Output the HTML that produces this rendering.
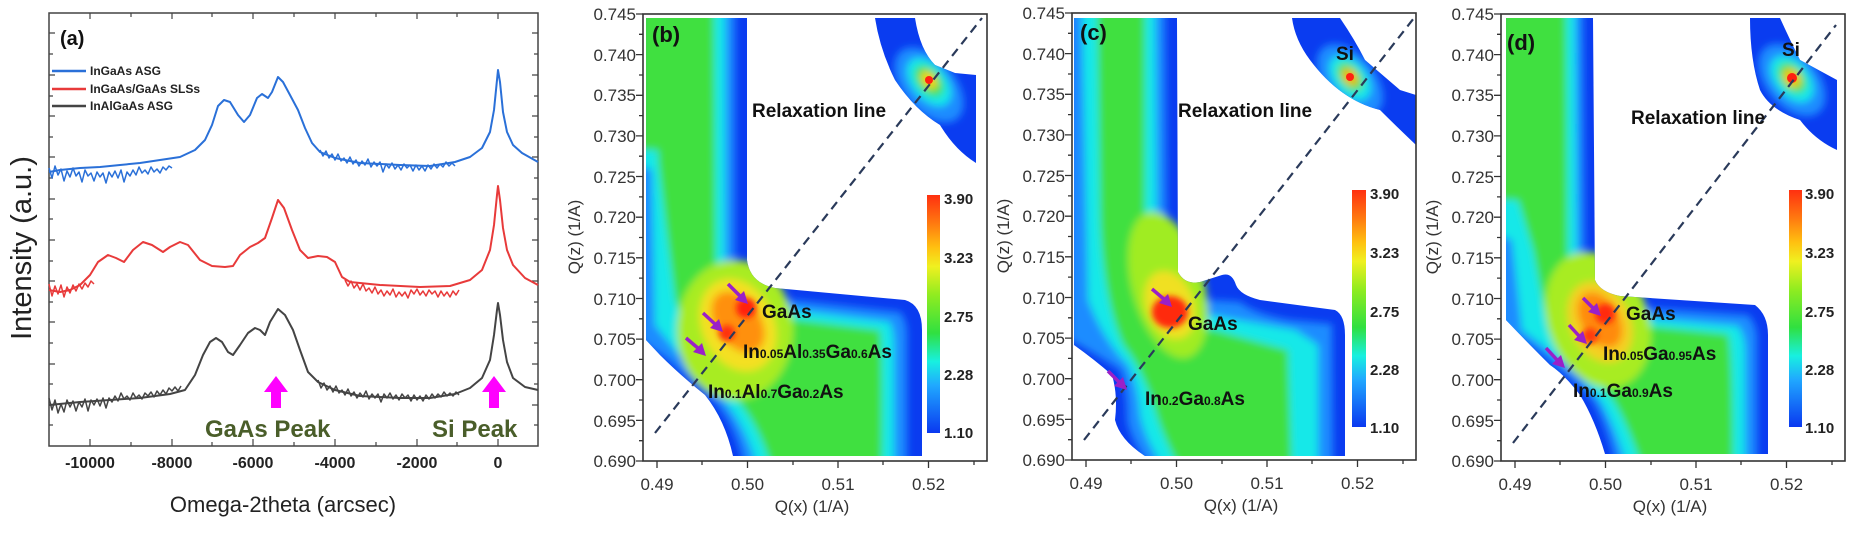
<!DOCTYPE html>
<html><head><meta charset="utf-8"><style>
html,body{margin:0;padding:0;background:#fff}
svg{display:block}
text{font-family:"Liberation Sans",Arial,sans-serif}
.tk{font-size:17px;fill:#333}
.b{font-weight:bold;fill:#111}
</style></head><body>
<svg width="1850" height="547" viewBox="0 0 1850 547" xmlns="http://www.w3.org/2000/svg">
<defs>
<filter id="bl" x="-20%" y="-20%" width="140%" height="140%"><feGaussianBlur stdDeviation="4"/></filter>
<filter id="bl2" x="-50%" y="-50%" width="200%" height="200%"><feGaussianBlur stdDeviation="3"/></filter>
<linearGradient id="cb" x1="0" y1="0" x2="0" y2="1">
<stop offset="0" stop-color="#ff3010"/><stop offset="0.12" stop-color="#ff7a10"/><stop offset="0.22" stop-color="#ffc010"/>
<stop offset="0.3" stop-color="#f0f020"/><stop offset="0.42" stop-color="#90ec20"/><stop offset="0.58" stop-color="#30e040"/>
<stop offset="0.7" stop-color="#18f0e0"/><stop offset="0.8" stop-color="#20a8ff"/><stop offset="1" stop-color="#0a38f0"/>
</linearGradient>
<clipPath id="cpb"><path d="M646,18 L747,18 L747,260 Q750,283 775,288 L905,300 Q922,305 922,330 L922,456 L733,456 Q725,420 705,395 Q680,375 660,355 L646,340 Z"/></clipPath>
<clipPath id="cpbs"><path d="M875,18 L915,18 Q920,50 935,65 L955,73 L976,75 L976,163 Q955,150 940,125 Q915,110 895,80 Q880,50 875,18 Z"/></clipPath>
<clipPath id="cpc"><path d="M1074,18 L1177,18 L1178,272 Q1185,285 1200,282 L1222,275 Q1232,272 1236,285 Q1240,295 1260,300 L1335,310 Q1345,315 1345,335 L1345,456 L1145,456 Q1120,440 1115,420 Q1118,395 1112,375 Q1095,360 1074,345 Z"/></clipPath>
<clipPath id="cpcs"><path d="M1292,18 L1340,18 Q1355,40 1365,60 L1400,90 L1416,95 L1416,145 Q1395,125 1380,110 Q1340,100 1310,60 Q1295,40 1292,18 Z"/></clipPath>
<clipPath id="cpd"><path d="M1506,18 L1593,18 L1595,280 Q1600,292 1620,296 L1755,305 Q1768,315 1768,335 L1768,454 L1605,454 Q1595,420 1580,395 Q1565,375 1550,365 Q1525,340 1506,320 Z"/></clipPath>
<clipPath id="cpds"><path d="M1750,18 L1780,18 Q1790,40 1800,60 L1837,80 L1837,150 Q1815,140 1800,120 Q1770,110 1760,90 Q1750,60 1750,18 Z"/></clipPath>
</defs>

<!-- ================= Panel (a) ================= -->
<rect x="49" y="13" width="489" height="433" fill="none" stroke="#444" stroke-width="1.5"/>
<path stroke="#444" stroke-width="1.2" fill="none" d="
M49,33h6M49,54h4M49,75h6M49,96h4M49,116h6M49,137h4M49,157h6M49,178h4M49,199h6M49,219h4M49,240h6M49,261h4M49,281h6M49,302h4M49,322h6M49,343h4M49,364h6M49,384h4M49,405h6M49,425h4
M538,33h-6M538,54h-4M538,75h-6M538,96h-4M538,116h-6M538,137h-4M538,157h-6M538,178h-4M538,199h-6M538,219h-4M538,240h-6M538,261h-4M538,281h-6M538,302h-4M538,322h-6M538,343h-4M538,364h-6M538,384h-4M538,405h-6M538,425h-4
M90,446v-7M131,446v-4M172,446v-7M212,446v-4M253,446v-7M294,446v-4M335,446v-7M376,446v-4M417,446v-7M457,446v-4M498,446v-7
M90,13v6M131,13v4M172,13v6M212,13v4M253,13v6M294,13v4M335,13v6M376,13v4M417,13v6M457,13v4M498,13v6"/>
<g font-weight="bold" font-size="16" fill="#222" text-anchor="middle">
<text x="90" y="468">-10000</text><text x="172" y="468">-8000</text><text x="253" y="468">-6000</text>
<text x="335" y="468">-4000</text><text x="417" y="468">-2000</text><text x="498" y="468">0</text>
</g>
<text x="283" y="512" font-size="22" fill="#222" text-anchor="middle">Omega-2theta (arcsec)</text>
<text transform="translate(31,248) rotate(-90)" font-size="29" fill="#222" text-anchor="middle">Intensity  (a.u.)</text>
<text x="60" y="45" class="b" font-size="20">(a)</text>
<g font-size="12" font-weight="bold" fill="#222">
<line x1="52" y1="71" x2="86" y2="71" stroke="#2a70d8" stroke-width="2.5"/><text x="90" y="75">InGaAs ASG</text>
<line x1="52" y1="89" x2="86" y2="89" stroke="#e83a3a" stroke-width="2.5"/><text x="90" y="93">InGaAs/GaAs SLSs</text>
<line x1="52" y1="106" x2="86" y2="106" stroke="#444" stroke-width="2.5"/><text x="90" y="110">InAlGaAs ASG</text>
</g>
<g fill="none" stroke-linejoin="round" stroke-width="2">
<path stroke="#2a70d8" d="M49,172 L60,170 80,168 100,167 120,165 140,163 160,160 180,157 195,150 205,140 212,125 218,106 224,100 230,102 238,115 244,122 250,115 257,98 262,94 268,98 272,92 278,77 283,82 290,95 298,110 305,128 312,143 320,152 335,158 360,163 400,165 430,166 455,162 470,157 482,148 490,132 494,110 497,80 498,70 500,82 503,112 507,132 513,145 522,153 538,162"/>
<path stroke="#2a70d8" stroke-width="1.5" d="M49,168 l3,10 3,-12 3,9 3,-6 3,12 3,-10 3,6 3,-9 3,8 3,-4 3,10 3,-12 3,6 3,-3 3,8 3,-9 3,5 3,-4 3,10 3,-11 3,5 3,-6 3,7 3,-8 3,12 3,-10 3,4 3,-6 3,5 3,-8 3,6 3,-3 3,4 3,-7 3,5 3,-3 3,4 3,-6 3,3 3,-4 3,2
M320,150 l3,6 3,-5 3,7 3,-4 3,6 3,-6 3,7 3,-3 3,5 3,-6 3,7 3,-4 3,6 3,-5 3,4 3,-6 3,8 3,-5 3,4 3,-4 3,10 3,-8 3,4 3,-5 3,6 3,-4 3,5 3,-6 3,4 3,-3 3,6 3,-6 3,5 3,-4 3,5 3,-6 3,4 3,-5 3,4 3,-4 3,3 3,-5 3,4 3,-3 3,3"/>
<path stroke="#e83a3a" d="M49,290 L60,292 70,290 80,285 90,275 98,262 108,255 116,258 124,262 133,250 143,242 152,245 163,252 170,247 180,242 188,245 200,260 212,266 225,267 233,266 240,255 250,247 258,243 265,238 272,218 278,200 284,208 292,230 300,250 308,258 318,256 327,257 335,262 342,277 350,282 380,285 420,287 450,286 470,280 482,270 490,250 494,225 497,195 498,186 500,200 503,228 507,250 513,265 525,278 538,285"/>
<path stroke="#e83a3a" stroke-width="1.5" d="M49,284 l3,12 3,-10 3,8 3,-9 3,12 3,-10 3,6 3,-8 3,6 3,-7 3,5 3,-6 3,4 3,-6 3,3
M345,280 l3,6 3,-5 3,7 3,-4 3,6 3,-6 3,7 3,-3 3,5 3,-6 3,7 3,-4 3,6 3,-5 3,4 3,-6 3,8 3,-5 3,4 3,-4 3,6 3,-8 3,4 3,-5 3,6 3,-4 3,5 3,-6 3,4 3,-3 3,6 3,-6 3,5 3,-4 3,5 3,-6 3,4 3,-5"/>
<path stroke="#444" d="M49,405 L80,402 110,400 140,398 170,394 185,390 195,375 203,355 210,342 216,338 222,342 228,352 233,355 240,345 248,333 255,328 260,330 265,335 270,322 278,309 285,315 293,330 300,350 308,372 318,382 335,390 360,396 400,398 430,398 455,394 470,388 482,378 490,360 494,335 497,310 498,303 500,315 503,340 507,362 513,378 525,387 538,390"/>
<path stroke="#444" stroke-width="1.5" d="M49,398 l3,12 3,-10 3,13 3,-9 3,8 3,-12 3,7 3,-6 3,10 3,-9 3,5 3,-8 3,12 3,-11 3,5 3,-6 3,7 3,-8 3,10 3,-10 3,4 3,-6 3,5 3,-8 3,6 3,-3 3,4 3,-7 3,5 3,-3 3,4 3,-6 3,3 3,-4 3,5 3,-6 3,4 3,-5 3,4 3,-6 3,3 3,-4 3,4 3,-5
M318,380 l3,8 3,-5 3,7 3,-4 3,6 3,-6 3,7 3,-3 3,5 3,-6 3,7 3,-4 3,6 3,-5 3,4 3,-6 3,8 3,-5 3,4 3,-4 3,8 3,-8 3,4 3,-5 3,6 3,-4 3,5 3,-6 3,4 3,-3 3,6 3,-6 3,5 3,-4 3,5 3,-6 3,4 3,-5 3,4 3,-4 3,3 3,-5 3,4 3,-3 3,3 3,-4 3,3"/>
</g>
<path fill="#ff00ff" d="M276,376 L288,392 L281,392 L281,408 L271,408 L271,392 L264,392 Z"/>
<path fill="#ff00ff" d="M494,376 L506,392 L499,392 L499,408 L489,408 L489,392 L482,392 Z"/>
<g font-size="24" font-weight="bold" fill="#4a5e2a"><text x="205" y="437">GaAs Peak</text><text x="432" y="437">Si Peak</text></g>

<!-- ================= Panel (b) maps ================= -->
<g clip-path="url(#cpb)">
<rect x="640" y="10" width="300" height="460" fill="#0a3cf0"/>
<g filter="url(#bl)">
<path fill="#1e8cff" d="M640,10 L735,10 L735,265 Q740,294 772,298 L900,312 Q907,320 907,335 L907,470 L745,470 Q738,430 715,402 Q690,380 668,360 L640,340 Z"/>
<path fill="#18e8e8" d="M640,10 L725,10 L725,272 Q730,304 768,307 L890,322 Q894,332 894,345 L894,470 L758,470 Q746,425 722,398 Q698,375 675,350 L655,325 L652,170 L640,165 Z"/>
<path fill="#40e040" d="M656,10 L714,10 L716,275 Q722,312 768,316 L880,330 Q883,345 882,470 L772,470 Q758,420 730,392 Q708,372 692,350 L675,300 L665,220 L658,160 Z"/>
<path fill="#40e040" d="M640,10 L665,10 L662,150 L640,150 Z"/>
<ellipse cx="735" cy="330" rx="58" ry="70" fill="#a8ec20"/>
<ellipse cx="738" cy="325" rx="36" ry="48" fill="#f4e020" transform="rotate(-25 738 325)"/>
<ellipse cx="738" cy="322" rx="22" ry="34" fill="#ff9010" transform="rotate(-35 738 322)"/>
</g>
<g filter="url(#bl2)"><circle cx="746" cy="308" r="10" fill="#ff2010"/><circle cx="727" cy="333" r="8" fill="#ff3010"/></g>
</g>
<g clip-path="url(#cpbs)">
<rect x="870" y="10" width="110" height="160" fill="#0a3cf0"/>
<g filter="url(#bl)">
<ellipse cx="929" cy="85" rx="26" ry="44" fill="#1e8cff" transform="rotate(-40 929 85)"/>
<ellipse cx="929" cy="82" rx="17" ry="28" fill="#18e8e8" transform="rotate(-40 929 82)"/>
<ellipse cx="929" cy="81" rx="11" ry="18" fill="#40e040" transform="rotate(-40 929 81)"/>
<ellipse cx="929" cy="80" rx="6" ry="10" fill="#ffd010" transform="rotate(-40 929 80)"/>
</g><circle cx="929" cy="80" r="4" fill="#ff2010"/>
</g>

<!-- ================= Panel (c) maps ================= -->
<g clip-path="url(#cpc)">
<rect x="1070" y="10" width="280" height="460" fill="#0a3cf0"/>
<g filter="url(#bl)">
<path fill="#1e8cff" d="M1070,10 L1165,10 L1167,282 Q1178,302 1210,300 L1240,302 Q1255,314 1290,320 L1332,324 L1333,470 L1152,470 Q1130,440 1127,420 Q1127,390 1120,370 Q1097,355 1070,340 Z"/>
<path fill="#18e8e8" d="M1082,10 L1155,10 L1157,288 Q1172,314 1215,316 L1295,330 L1318,345 L1318,470 L1165,470 Q1145,440 1140,415 Q1138,385 1128,365 Q1103,340 1088,300 Z"/>
<path fill="#40e040" d="M1097,10 L1145,10 L1145,292 Q1168,325 1215,330 L1288,350 L1292,470 L1180,470 Q1160,430 1155,410 Q1143,370 1123,345 Q1103,300 1100,220 Z"/>
<ellipse cx="1168" cy="285" rx="36" ry="75" fill="#a0ec20" transform="rotate(-15 1168 285)"/>
<ellipse cx="1170" cy="305" rx="24" ry="35" fill="#f0e020" transform="rotate(-20 1170 305)"/>
</g>
<g filter="url(#bl2)"><ellipse cx="1170" cy="312" rx="18" ry="16" fill="#ff2a10"/></g>
</g>
<g clip-path="url(#cpcs)">
<rect x="1285" y="10" width="135" height="140" fill="#0a3cf0"/>
<g filter="url(#bl)">
<ellipse cx="1350" cy="80" rx="25" ry="42" fill="#1e8cff" transform="rotate(-40 1350 80)"/>
<ellipse cx="1350" cy="78" rx="16" ry="26" fill="#18e8e8" transform="rotate(-40 1350 78)"/>
<ellipse cx="1350" cy="77" rx="10" ry="16" fill="#60e030" transform="rotate(-40 1350 77)"/>
<ellipse cx="1350" cy="77" rx="6" ry="9" fill="#ffb010" transform="rotate(-40 1350 77)"/>
</g><circle cx="1350" cy="77" r="4" fill="#ff2010"/>
</g>

<!-- ================= Panel (d) maps ================= -->
<g clip-path="url(#cpd)">
<rect x="1500" y="10" width="275" height="460" fill="#0a3cf0"/>
<g filter="url(#bl)">
<path fill="#1e8cff" d="M1500,10 L1583,10 L1585,287 Q1593,302 1620,306 L1748,315 Q1757,324 1757,340 L1757,470 L1617,470 Q1607,425 1592,400 Q1572,378 1557,368 Q1532,345 1500,328 Z"/>
<path fill="#18e8e8" d="M1500,10 L1575,10 L1577,290 Q1588,312 1620,316 L1738,326 Q1745,336 1745,350 L1745,470 L1628,470 Q1615,425 1600,400 Q1582,378 1567,365 Q1542,345 1522,330 L1512,240 L1500,235 Z"/>
<path fill="#40e040" d="M1511,10 L1566,10 L1568,294 Q1582,318 1620,323 L1728,334 Q1733,348 1733,470 L1643,470 Q1628,425 1613,400 Q1593,375 1578,362 Q1558,345 1548,330 L1533,250 L1518,200 Z"/>
<path fill="#40e040" d="M1500,10 L1520,10 L1520,200 L1500,200 Z"/>
<ellipse cx="1598" cy="320" rx="50" ry="70" fill="#a8ec20" transform="rotate(-20 1598 320)"/>
<ellipse cx="1600" cy="322" rx="30" ry="42" fill="#f4d020" transform="rotate(-25 1600 322)"/>
<ellipse cx="1600" cy="320" rx="19" ry="30" fill="#ff8a10" transform="rotate(-30 1600 320)"/>
</g>
<g filter="url(#bl2)"><circle cx="1605" cy="314" r="10" fill="#ff2a10"/><circle cx="1590" cy="336" r="8" fill="#ff3a10"/></g>
</g>
<g clip-path="url(#cpds)">
<rect x="1745" y="10" width="95" height="145" fill="#0a3cf0"/>
<g filter="url(#bl)">
<ellipse cx="1792" cy="80" rx="26" ry="42" fill="#1e8cff" transform="rotate(-40 1792 80)"/>
<ellipse cx="1792" cy="79" rx="17" ry="27" fill="#18e8e8" transform="rotate(-40 1792 79)"/>
<ellipse cx="1792" cy="78" rx="11" ry="17" fill="#50e030" transform="rotate(-40 1792 78)"/>
<ellipse cx="1792" cy="78" rx="7" ry="10" fill="#ffc010" transform="rotate(-40 1792 78)"/>
</g><circle cx="1792" cy="78" r="5" fill="#ff2010"/>
</g>

<!-- relaxation lines -->
<g stroke="#2a3a5a" stroke-width="2.2" stroke-dasharray="9 6" fill="none">
<line x1="655" y1="433" x2="982" y2="18"/>
<line x1="1084" y1="440" x2="1414" y2="18"/>
<line x1="1513" y1="443" x2="1836" y2="25"/>
</g>

<!-- colorbars -->
<rect x="927" y="195" width="13" height="238" fill="url(#cb)"/>
<rect x="1352" y="190" width="14" height="237" fill="url(#cb)"/>
<rect x="1789" y="190" width="13" height="237" fill="url(#cb)"/>
<g font-size="15" font-weight="bold" fill="#222">
<text x="944" y="204">3.90</text><text x="944" y="263">3.23</text><text x="944" y="322">2.75</text><text x="944" y="380">2.28</text><text x="944" y="438">1.10</text>
<text x="1370" y="199">3.90</text><text x="1370" y="258">3.23</text><text x="1370" y="317">2.75</text><text x="1370" y="375">2.28</text><text x="1370" y="433">1.10</text>
<text x="1805" y="199">3.90</text><text x="1805" y="258">3.23</text><text x="1805" y="317">2.75</text><text x="1805" y="375">2.28</text><text x="1805" y="433">1.10</text>
</g>

<!-- purple arrows -->
<g stroke="#9a20c8" stroke-width="3.5" fill="#9a20c8">
<line x1="728" y1="284" x2="741" y2="297"/><path stroke="none" d="M748,304 L735,300 L744,291 Z"/>
<line x1="703" y1="313" x2="716" y2="325"/><path stroke="none" d="M723,332 L710,328 L719,319 Z"/>
<line x1="686" y1="338" x2="699" y2="349"/><path stroke="none" d="M706,356 L693,352 L702,343 Z"/>
<line x1="1152" y1="289" x2="1165" y2="300"/><path stroke="none" d="M1172,307 L1159,303 L1168,294 Z"/>
<line x1="1108" y1="371" x2="1120" y2="383"/><path stroke="none" d="M1127,390 L1114,386 L1123,377 Z"/>
<line x1="1583" y1="298" x2="1594" y2="309"/><path stroke="none" d="M1601,316 L1588,312 L1597,303 Z"/>
<line x1="1569" y1="325" x2="1580" y2="337"/><path stroke="none" d="M1587,344 L1574,340 L1583,331 Z"/>
<line x1="1546" y1="348" x2="1558" y2="361"/><path stroke="none" d="M1565,368 L1552,364 L1561,355 Z"/>
</g>

<!-- labels -->
<g class="b" font-size="19" fill="#111" font-weight="bold">
<text x="652" y="42" font-size="22">(b)</text>
<text x="752" y="117">Relaxation line</text>
<text x="762" y="318">GaAs</text>
<text x="743" y="358">In<tspan font-size="12">0.05</tspan>Al<tspan font-size="12">0.35</tspan>Ga<tspan font-size="12">0.6</tspan>As</text>
<text x="708" y="398">In<tspan font-size="12">0.1</tspan>Al<tspan font-size="12">0.7</tspan>Ga<tspan font-size="12">0.2</tspan>As</text>
<text x="1080" y="40" font-size="22">(c)</text>
<text x="1336" y="60">Si</text>
<text x="1178" y="117">Relaxation line</text>
<text x="1188" y="330">GaAs</text>
<text x="1145" y="405">In<tspan font-size="12">0.2</tspan>Ga<tspan font-size="12">0.8</tspan>As</text>
<text x="1507" y="50" font-size="22">(d)</text>
<text x="1782" y="56">Si</text>
<text x="1631" y="124">Relaxation line</text>
<text x="1626" y="320">GaAs</text>
<text x="1603" y="360">In<tspan font-size="12">0.05</tspan>Ga<tspan font-size="12">0.95</tspan>As</text>
<text x="1573" y="397">In<tspan font-size="12">0.1</tspan>Ga<tspan font-size="12">0.9</tspan>As</text>
</g>

<!-- axes b,c,d -->
<g>
<rect x="643" y="14" width="344" height="447" fill="none" stroke="#333" stroke-width="1.6"/>
<path stroke="#333" stroke-width="1.3" fill="none" d="M643,14h-7M643,34.3h-4M643,54.6h-7M643,75h-4M643,95.3h-7M643,115.6h-4M643,135.9h-7M643,156.2h-4M643,176.5h-7M643,196.9h-4M643,217.2h-7M643,237.5h-4M643,257.8h-7M643,278.1h-4M643,298.5h-7M643,318.8h-4M643,339.1h-7M643,359.4h-4M643,379.7h-7M643,400h-4M643,420.4h-7M643,440.7h-4M643,461h-7
M657,461v7M702,461v4M747.5,461v7M793,461v4M838,461v7M883,461v4M928.5,461v7M974,461v4"/>
<g class="tk" text-anchor="end"><text x="636" y="20">0.745</text><text x="636" y="61">0.740</text><text x="636" y="101">0.735</text><text x="636" y="142">0.730</text><text x="636" y="183">0.725</text><text x="636" y="223">0.720</text><text x="636" y="264">0.715</text><text x="636" y="305">0.710</text><text x="636" y="345">0.705</text><text x="636" y="386">0.700</text><text x="636" y="427">0.695</text><text x="636" y="467">0.690</text></g>
<g class="tk" text-anchor="middle"><text x="657" y="490">0.49</text><text x="747.5" y="490">0.50</text><text x="838" y="490">0.51</text><text x="928.5" y="490">0.52</text></g>
<text x="812" y="512" class="tk" font-size="19" text-anchor="middle">Q(x) (1/A)</text>
<text transform="translate(580,237) rotate(-90)" class="tk" font-size="19" text-anchor="middle">Q(z) (1/A)</text>
</g>
<g transform="translate(429,-1)">
<rect x="643" y="14" width="344" height="447" fill="none" stroke="#333" stroke-width="1.6"/>
<path stroke="#333" stroke-width="1.3" fill="none" d="M643,14h-7M643,34.3h-4M643,54.6h-7M643,75h-4M643,95.3h-7M643,115.6h-4M643,135.9h-7M643,156.2h-4M643,176.5h-7M643,196.9h-4M643,217.2h-7M643,237.5h-4M643,257.8h-7M643,278.1h-4M643,298.5h-7M643,318.8h-4M643,339.1h-7M643,359.4h-4M643,379.7h-7M643,400h-4M643,420.4h-7M643,440.7h-4M643,461h-7
M657,461v7M702,461v4M747.5,461v7M793,461v4M838,461v7M883,461v4M928.5,461v7M974,461v4"/>
<g class="tk" text-anchor="end"><text x="636" y="20">0.745</text><text x="636" y="61">0.740</text><text x="636" y="101">0.735</text><text x="636" y="142">0.730</text><text x="636" y="183">0.725</text><text x="636" y="223">0.720</text><text x="636" y="264">0.715</text><text x="636" y="305">0.710</text><text x="636" y="345">0.705</text><text x="636" y="386">0.700</text><text x="636" y="427">0.695</text><text x="636" y="467">0.690</text></g>
<g class="tk" text-anchor="middle"><text x="657" y="490">0.49</text><text x="747.5" y="490">0.50</text><text x="838" y="490">0.51</text><text x="928.5" y="490">0.52</text></g>
<text x="812" y="512" class="tk" font-size="19" text-anchor="middle">Q(x) (1/A)</text>
<text transform="translate(580,237) rotate(-90)" class="tk" font-size="19" text-anchor="middle">Q(z) (1/A)</text>
</g>
<g transform="translate(858,0)">
<rect x="643" y="14" width="344" height="447" fill="none" stroke="#333" stroke-width="1.6"/>
<path stroke="#333" stroke-width="1.3" fill="none" d="M643,14h-7M643,34.3h-4M643,54.6h-7M643,75h-4M643,95.3h-7M643,115.6h-4M643,135.9h-7M643,156.2h-4M643,176.5h-7M643,196.9h-4M643,217.2h-7M643,237.5h-4M643,257.8h-7M643,278.1h-4M643,298.5h-7M643,318.8h-4M643,339.1h-7M643,359.4h-4M643,379.7h-7M643,400h-4M643,420.4h-7M643,440.7h-4M643,461h-7
M657,461v7M702,461v4M747.5,461v7M793,461v4M838,461v7M883,461v4M928.5,461v7M974,461v4"/>
<g class="tk" text-anchor="end"><text x="636" y="20">0.745</text><text x="636" y="61">0.740</text><text x="636" y="101">0.735</text><text x="636" y="142">0.730</text><text x="636" y="183">0.725</text><text x="636" y="223">0.720</text><text x="636" y="264">0.715</text><text x="636" y="305">0.710</text><text x="636" y="345">0.705</text><text x="636" y="386">0.700</text><text x="636" y="427">0.695</text><text x="636" y="467">0.690</text></g>
<g class="tk" text-anchor="middle"><text x="657" y="490">0.49</text><text x="747.5" y="490">0.50</text><text x="838" y="490">0.51</text><text x="928.5" y="490">0.52</text></g>
<text x="812" y="512" class="tk" font-size="19" text-anchor="middle">Q(x) (1/A)</text>
<text transform="translate(580,237) rotate(-90)" class="tk" font-size="19" text-anchor="middle">Q(z) (1/A)</text>
</g>
</svg>
</body></html>
